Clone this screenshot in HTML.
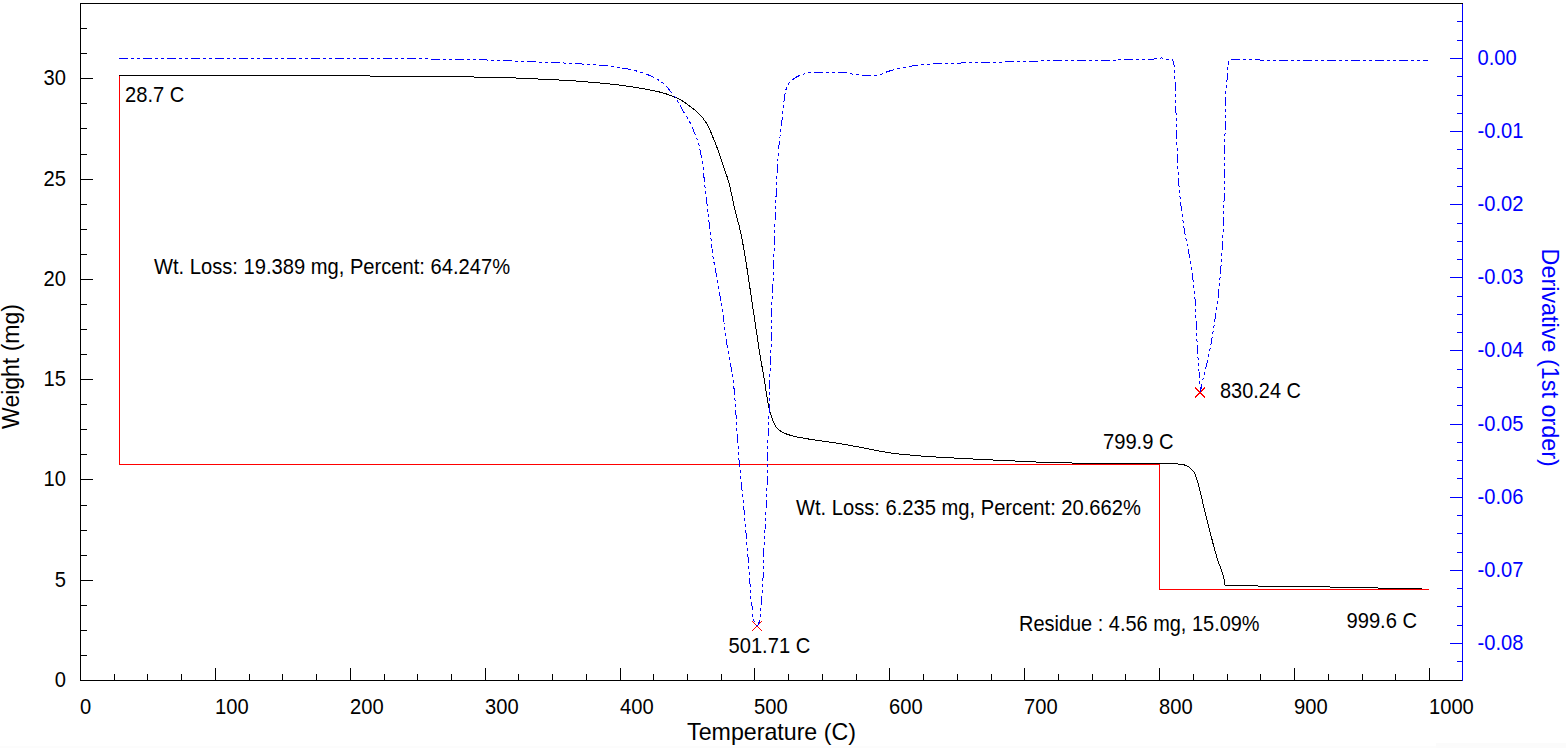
<!DOCTYPE html>
<html><head><meta charset="utf-8"><title>TGA</title>
<style>
html,body{margin:0;padding:0;background:#fff;}
svg{display:block}
text{font-family:"Liberation Sans",Arial,sans-serif;}
.t20{font-size:20px}
.t23{font-size:23px}
.ax{shape-rendering:crispEdges;stroke-width:1;fill:none}
</style></head><body>
<svg width="1566" height="748" viewBox="0 0 1566 748">
<rect width="1566" height="748" fill="#fff"/>
<rect x="0" y="746" width="1566" height="2" fill="#fcfcfc"/><rect x="1436" y="743" width="130" height="5" fill="#fbfbfb"/>
<g class="ax" stroke="#000"><path d="M1462.5,3.5 H80.5 V680.5 H1462.5" stroke-linecap="square"/>
<path d="M80.5,680.5 h12 M80.5,655.5 h6 M80.5,630.5 h6 M80.5,605.5 h6 M80.5,580.5 h12 M80.5,555.5 h6 M80.5,530.5 h6 M80.5,505.5 h6 M80.5,479.5 h12 M80.5,454.5 h6 M80.5,429.5 h6 M80.5,404.5 h6 M80.5,379.5 h12 M80.5,354.5 h6 M80.5,329.5 h6 M80.5,304.5 h6 M80.5,279.5 h12 M80.5,254.5 h6 M80.5,229.5 h6 M80.5,204.5 h6 M80.5,179.5 h12 M80.5,154.5 h6 M80.5,128.5 h6 M80.5,103.5 h6 M80.5,78.5 h12 M80.5,53.5 h6 M80.5,28.5 h6 M80.5,680.5 v-13 M114.5,680.5 v-7 M147.5,680.5 v-7 M181.5,680.5 v-7 M215.5,680.5 v-13 M249.5,680.5 v-7 M282.5,680.5 v-7 M316.5,680.5 v-7 M350.5,680.5 v-13 M384.5,680.5 v-7 M417.5,680.5 v-7 M451.5,680.5 v-7 M485.5,680.5 v-13 M518.5,680.5 v-7 M552.5,680.5 v-7 M586.5,680.5 v-7 M620.5,680.5 v-13 M653.5,680.5 v-7 M687.5,680.5 v-7 M721.5,680.5 v-7 M754.5,680.5 v-13 M788.5,680.5 v-7 M822.5,680.5 v-7 M856.5,680.5 v-7 M889.5,680.5 v-13 M923.5,680.5 v-7 M957.5,680.5 v-7 M991.5,680.5 v-7 M1024.5,680.5 v-13 M1058.5,680.5 v-7 M1092.5,680.5 v-7 M1125.5,680.5 v-7 M1159.5,680.5 v-13 M1193.5,680.5 v-7 M1227.5,680.5 v-7 M1260.5,680.5 v-7 M1294.5,680.5 v-13 M1328.5,680.5 v-7 M1362.5,680.5 v-7 M1395.5,680.5 v-7 M1429.5,680.5 v-13 "/></g>
<g class="ax" stroke="#00f"><path d="M1462.5,3.5 V680.5 M1462.5,21.5 h-6 M1462.5,40.5 h-6 M1462.5,58.5 h-13 M1462.5,76.5 h-6 M1462.5,95.5 h-6 M1462.5,113.5 h-6 M1462.5,131.5 h-13 M1462.5,149.5 h-6 M1462.5,168.5 h-6 M1462.5,186.5 h-6 M1462.5,204.5 h-13 M1462.5,223.5 h-6 M1462.5,241.5 h-6 M1462.5,259.5 h-6 M1462.5,277.5 h-13 M1462.5,296.5 h-6 M1462.5,314.5 h-6 M1462.5,332.5 h-6 M1462.5,350.5 h-13 M1462.5,369.5 h-6 M1462.5,387.5 h-6 M1462.5,405.5 h-6 M1462.5,424.5 h-13 M1462.5,442.5 h-6 M1462.5,460.5 h-6 M1462.5,478.5 h-6 M1462.5,497.5 h-13 M1462.5,515.5 h-6 M1462.5,533.5 h-6 M1462.5,552.5 h-6 M1462.5,570.5 h-13 M1462.5,588.5 h-6 M1462.5,606.5 h-6 M1462.5,625.5 h-6 M1462.5,643.5 h-13 M1462.5,661.5 h-6 "/></g>
<text transform="translate(66,687) scale(1.0,1.07)" font-size="20.15" fill="#000" text-anchor="end">0</text>
<text transform="translate(66,587) scale(1.0,1.07)" font-size="20.15" fill="#000" text-anchor="end">5</text>
<text transform="translate(66,486) scale(1.0,1.07)" font-size="20.15" fill="#000" text-anchor="end">10</text>
<text transform="translate(66,386) scale(1.0,1.07)" font-size="20.15" fill="#000" text-anchor="end">15</text>
<text transform="translate(66,286) scale(1.0,1.07)" font-size="20.15" fill="#000" text-anchor="end">20</text>
<text transform="translate(66,186) scale(1.0,1.07)" font-size="20.15" fill="#000" text-anchor="end">25</text>
<text transform="translate(66,85) scale(1.0,1.07)" font-size="20.15" fill="#000" text-anchor="end">30</text>
<text transform="translate(80,713.5) scale(1.0,1.07)" font-size="20.15" fill="#000">0</text>
<text transform="translate(215,713.5) scale(1.0,1.07)" font-size="20.15" fill="#000">100</text>
<text transform="translate(350,713.5) scale(1.0,1.07)" font-size="20.15" fill="#000">200</text>
<text transform="translate(485,713.5) scale(1.0,1.07)" font-size="20.15" fill="#000">300</text>
<text transform="translate(620,713.5) scale(1.0,1.07)" font-size="20.15" fill="#000">400</text>
<text transform="translate(754,713.5) scale(1.0,1.07)" font-size="20.15" fill="#000">500</text>
<text transform="translate(889,713.5) scale(1.0,1.07)" font-size="20.15" fill="#000">600</text>
<text transform="translate(1024,713.5) scale(1.0,1.07)" font-size="20.15" fill="#000">700</text>
<text transform="translate(1159,713.5) scale(1.0,1.07)" font-size="20.15" fill="#000">800</text>
<text transform="translate(1294,713.5) scale(1.0,1.07)" font-size="20.15" fill="#000">900</text>
<text transform="translate(1429,713.5) scale(1.0,1.07)" font-size="20.15" fill="#000">1000</text>
<text transform="translate(1477.5,64.5) scale(1.0,1.07)" font-size="20.15" fill="#00f">0.00</text>
<text transform="translate(1477.5,137.5) scale(1.0,1.07)" font-size="20.15" fill="#00f">-0.01</text>
<text transform="translate(1477.5,210.5) scale(1.0,1.07)" font-size="20.15" fill="#00f">-0.02</text>
<text transform="translate(1477.5,283.5) scale(1.0,1.07)" font-size="20.15" fill="#00f">-0.03</text>
<text transform="translate(1477.5,356.5) scale(1.0,1.07)" font-size="20.15" fill="#00f">-0.04</text>
<text transform="translate(1477.5,430.5) scale(1.0,1.07)" font-size="20.15" fill="#00f">-0.05</text>
<text transform="translate(1477.5,503.5) scale(1.0,1.07)" font-size="20.15" fill="#00f">-0.06</text>
<text transform="translate(1477.5,576.5) scale(1.0,1.07)" font-size="20.15" fill="#00f">-0.07</text>
<text transform="translate(1477.5,649.5) scale(1.0,1.07)" font-size="20.15" fill="#00f">-0.08</text>
<text transform="translate(771.5,739.8) scale(1.0,1.0)" font-size="23.2" fill="#000" text-anchor="middle">Temperature (C)</text>
<text transform="translate(19,366.5) rotate(-90) scale(1.0,1.0)" font-size="23" fill="#000" text-anchor="middle">Weight (mg)</text>
<text transform="translate(1542.2,357.7) rotate(90) scale(1.0,1.0)" font-size="23.4" fill="#00f" text-anchor="middle">Derivative (1st order)</text>
<g class="ax" stroke="#f00"><path d="M119.5,75.5 V464.5 H1159.5 V589.5 H1429"/></g>
<path d="M752,621 l10,10 M752,631 l10,-10" stroke="#f00" stroke-width="1" fill="none" shape-rendering="crispEdges"/>
<path d="M1195,387.5 l10,10 M1195,397.5 l10,-10" stroke="#f00" stroke-width="1" fill="none" shape-rendering="crispEdges"/>
<path d="M119.0,75.5 L120.5,75.5 L122.0,75.5 L123.5,75.5 L125.0,75.5 L126.5,75.5 L128.0,75.5 L129.5,75.5 L131.0,75.5 L132.5,75.5 L134.0,75.5 L135.5,75.5 L137.0,75.5 L138.5,75.5 L140.0,75.5 L141.5,75.5 L143.0,75.5 L144.5,75.5 L146.0,75.5 L147.5,75.5 L149.0,75.5 L150.5,75.5 L152.1,75.5 L153.6,75.5 L155.1,75.5 L156.6,75.5 L158.1,75.5 L159.6,75.5 L161.1,75.5 L162.6,75.5 L164.1,75.5 L165.6,75.5 L167.1,75.5 L168.6,75.5 L170.1,75.5 L171.6,75.5 L173.1,75.5 L174.6,75.5 L176.1,75.5 L177.6,75.5 L179.1,75.5 L180.6,75.5 L182.1,75.5 L183.6,75.5 L185.1,75.5 L186.6,75.5 L188.1,75.5 L189.6,75.5 L191.1,75.5 L192.6,75.5 L194.1,75.5 L195.6,75.5 L197.1,75.5 L198.6,75.5 L200.1,75.5 L201.6,75.5 L203.1,75.5 L204.6,75.5 L206.1,75.6 L207.6,75.6 L209.1,75.6 L210.6,75.6 L212.1,75.6 L213.6,75.6 L215.1,75.6 L216.6,75.6 L218.2,75.6 L219.7,75.6 L221.2,75.6 L222.7,75.6 L224.2,75.6 L225.7,75.6 L227.2,75.6 L228.7,75.6 L230.2,75.6 L231.7,75.6 L233.2,75.6 L234.7,75.6 L236.2,75.6 L237.7,75.6 L239.2,75.6 L240.7,75.6 L242.2,75.6 L243.7,75.6 L245.2,75.6 L246.7,75.6 L248.2,75.6 L249.7,75.6 L251.2,75.6 L252.7,75.6 L254.2,75.6 L255.7,75.6 L257.2,75.6 L258.7,75.6 L260.2,75.6 L261.7,75.6 L263.2,75.6 L264.7,75.6 L266.2,75.6 L267.7,75.6 L269.2,75.6 L270.7,75.6 L272.2,75.6 L273.7,75.6 L275.2,75.6 L276.7,75.6 L278.2,75.6 L279.7,75.6 L281.2,75.7 L282.8,75.7 L284.3,75.7 L285.8,75.7 L287.3,75.7 L288.8,75.7 L290.3,75.7 L291.8,75.7 L293.3,75.7 L294.8,75.7 L296.3,75.7 L297.8,75.7 L299.3,75.7 L300.8,75.7 L302.3,75.7 L303.8,75.7 L305.3,75.7 L306.8,75.7 L308.3,75.7 L309.8,75.7 L311.3,75.7 L312.8,75.7 L314.3,75.7 L315.8,75.7 L317.3,75.7 L318.8,75.8 L320.3,75.8 L321.8,75.8 L323.3,75.8 L324.8,75.8 L326.3,75.8 L327.8,75.8 L329.3,75.8 L330.8,75.8 L332.3,75.8 L333.8,75.8 L335.3,75.8 L336.8,75.8 L338.3,75.8 L339.8,75.8 L341.3,75.8 L342.8,75.8 L344.3,75.8 L345.8,75.8 L347.4,75.9 L348.9,75.9 L350.4,75.9 L351.9,75.9 L353.4,75.9 L354.9,75.9 L356.4,75.9 L357.9,75.9 L359.4,75.9 L360.9,75.9 L362.4,75.9 L363.9,75.9 L365.4,75.9 L366.9,75.9 L368.4,75.9 L369.9,76.0 L371.4,76.0 L372.9,76.0 L374.4,76.0 L375.9,76.0 L377.4,76.0 L378.9,76.0 L380.4,76.0 L381.9,76.0 L383.4,76.0 L384.9,76.0 L386.4,76.0 L387.9,76.0 L389.4,76.1 L390.9,76.1 L392.4,76.1 L393.9,76.1 L395.4,76.1 L396.9,76.1 L398.4,76.1 L399.9,76.1 L401.4,76.1 L402.9,76.1 L404.4,76.2 L405.9,76.2 L407.4,76.2 L408.9,76.2 L410.4,76.2 L411.9,76.2 L413.5,76.2 L415.0,76.2 L416.5,76.3 L418.0,76.3 L419.5,76.3 L421.0,76.3 L422.5,76.3 L424.0,76.3 L425.5,76.3 L427.0,76.4 L428.5,76.4 L430.0,76.4 L431.5,76.4 L433.0,76.4 L434.5,76.4 L436.0,76.5 L437.5,76.5 L439.0,76.5 L440.5,76.5 L442.0,76.5 L443.5,76.6 L445.0,76.6 L446.5,76.6 L448.0,76.6 L449.5,76.6 L451.0,76.6 L452.5,76.7 L454.0,76.7 L455.5,76.7 L457.0,76.7 L458.5,76.7 L460.0,76.8 L461.5,76.8 L463.0,76.8 L464.5,76.8 L466.0,76.9 L467.5,76.9 L469.0,76.9 L470.5,76.9 L472.0,76.9 L473.5,77.0 L475.0,77.0 L476.5,77.0 L478.0,77.0 L479.5,77.1 L481.0,77.1 L482.6,77.1 L484.1,77.1 L485.6,77.2 L487.1,77.2 L488.6,77.2 L490.1,77.3 L491.6,77.3 L493.1,77.3 L494.6,77.4 L496.1,77.4 L497.6,77.4 L499.1,77.5 L500.6,77.5 L502.1,77.6 L503.6,77.6 L505.1,77.6 L506.6,77.7 L508.1,77.7 L509.6,77.8 L511.1,77.8 L512.6,77.9 L514.1,77.9 L515.6,78.0 L517.1,78.0 L518.6,78.1 L520.1,78.1 L521.6,78.2 L523.1,78.2 L524.6,78.3 L526.1,78.4 L527.6,78.4 L529.1,78.5 L530.6,78.6 L532.1,78.7 L533.6,78.7 L535.1,78.8 L536.6,78.9 L538.1,79.0 L539.6,79.0 L541.1,79.1 L542.6,79.2 L544.1,79.2 L545.6,79.3 L547.1,79.4 L548.6,79.5 L550.1,79.5 L551.6,79.6 L553.1,79.7 L554.6,79.8 L556.1,79.9 L557.6,79.9 L559.1,80.0 L560.6,80.1 L562.1,80.2 L563.6,80.3 L565.1,80.4 L566.6,80.5 L568.1,80.6 L569.6,80.6 L571.1,80.7 L572.6,80.8 L574.1,80.9 L575.6,81.0 L577.1,81.1 L578.6,81.3 L580.1,81.4 L581.6,81.5 L583.1,81.6 L584.6,81.7 L586.1,81.8 L587.6,81.9 L589.1,82.1 L590.6,82.2 L592.1,82.3 L593.6,82.4 L595.1,82.6 L596.6,82.7 L598.1,82.8 L599.6,83.0 L601.1,83.1 L602.6,83.3 L604.1,83.4 L605.5,83.5 L607.0,83.7 L608.5,83.8 L610.0,84.0 L611.5,84.2 L613.0,84.3 L614.5,84.5 L616.0,84.7 L617.5,84.9 L619.0,85.0 L620.5,85.2 L622.0,85.4 L623.5,85.6 L624.9,85.8 L626.4,86.0 L627.9,86.3 L629.4,86.5 L630.9,86.7 L632.4,86.9 L633.9,87.1 L635.4,87.4 L636.8,87.6 L638.3,87.8 L639.8,88.1 L641.3,88.3 L642.8,88.6 L644.2,88.8 L645.7,89.1 L647.2,89.4 L648.7,89.7 L650.1,90.0 L651.6,90.3 L653.1,90.6 L654.6,90.9 L656.0,91.2 L657.5,91.5 L659.0,91.9 L660.4,92.2 L661.9,92.6 L663.3,93.0 L664.8,93.4 L666.2,93.9 L667.6,94.4 L669.0,94.9 L670.4,95.4 L671.8,96.0 L673.2,96.5 L674.6,97.1 L676.0,97.7 L677.4,98.3 L678.8,98.9 L680.1,99.6 L681.4,100.3 L682.7,101.1 L683.9,101.9 L685.2,102.8 L686.4,103.7 L687.6,104.5 L688.8,105.4 L690.0,106.3 L691.2,107.2 L692.4,108.1 L693.6,109.1 L694.8,110.0 L695.9,111.0 L697.0,112.0 L698.1,113.1 L699.2,114.1 L700.3,115.2 L701.3,116.3 L702.3,117.4 L703.2,118.6 L704.1,119.8 L705.0,121.0 L705.8,122.3 L706.6,123.6 L707.3,124.9 L708.0,126.2 L708.7,127.5 L709.4,128.9 L710.0,130.2 L710.6,131.6 L711.2,133.0 L711.8,134.4 L712.4,135.8 L712.9,137.2 L713.5,138.5 L714.1,139.9 L714.7,141.3 L715.2,142.7 L715.8,144.1 L716.3,145.5 L716.8,146.9 L717.3,148.3 L717.9,149.7 L718.4,151.2 L718.9,152.6 L719.4,154.0 L719.9,155.4 L720.3,156.8 L720.8,158.3 L721.3,159.7 L721.8,161.1 L722.3,162.5 L722.8,164.0 L723.2,165.4 L723.7,166.8 L724.2,168.2 L724.7,169.7 L725.1,171.1 L725.6,172.5 L726.1,173.9 L726.6,175.3 L727.1,176.8 L727.6,178.2 L728.0,179.6 L728.4,181.1 L728.8,182.5 L729.2,184.0 L729.6,185.4 L729.9,186.9 L730.3,188.3 L730.6,189.8 L730.9,191.3 L731.2,192.7 L731.6,194.2 L731.9,195.7 L732.2,197.2 L732.5,198.6 L732.8,200.1 L733.1,201.6 L733.4,203.0 L733.7,204.5 L734.1,206.0 L734.4,207.4 L734.8,208.9 L735.1,210.4 L735.5,211.8 L735.9,213.3 L736.2,214.7 L736.6,216.2 L737.0,217.6 L737.4,219.1 L737.8,220.5 L738.1,222.0 L738.5,223.5 L738.9,224.9 L739.3,226.4 L739.6,227.8 L739.9,229.3 L740.3,230.8 L740.6,232.2 L740.9,233.7 L741.2,235.2 L741.5,236.6 L741.8,238.1 L742.1,239.6 L742.4,241.1 L742.6,242.5 L742.9,244.0 L743.2,245.5 L743.4,247.0 L743.7,248.4 L744.0,249.9 L744.2,251.4 L744.5,252.9 L744.7,254.4 L745.0,255.9 L745.2,257.3 L745.5,258.8 L745.7,260.3 L746.0,261.8 L746.2,263.3 L746.5,264.7 L746.7,266.2 L746.9,267.7 L747.1,269.2 L747.4,270.7 L747.6,272.2 L747.8,273.7 L748.0,275.1 L748.3,276.6 L748.5,278.1 L748.7,279.6 L748.9,281.1 L749.1,282.6 L749.4,284.1 L749.6,285.5 L749.8,287.0 L750.0,288.5 L750.3,290.0 L750.5,291.5 L750.7,293.0 L750.9,294.5 L751.2,295.9 L751.4,297.4 L751.6,298.9 L751.8,300.4 L752.0,301.9 L752.3,303.4 L752.5,304.9 L752.7,306.3 L752.9,307.8 L753.1,309.3 L753.4,310.8 L753.6,312.3 L753.8,313.8 L754.0,315.3 L754.2,316.7 L754.5,318.2 L754.7,319.7 L754.9,321.2 L755.1,322.7 L755.3,324.2 L755.6,325.7 L755.8,327.1 L756.0,328.6 L756.2,330.1 L756.4,331.6 L756.7,333.1 L756.9,334.6 L757.1,336.1 L757.3,337.6 L757.6,339.0 L757.8,340.5 L758.0,342.0 L758.2,343.5 L758.4,345.0 L758.7,346.5 L758.9,347.9 L759.1,349.4 L759.4,350.9 L759.6,352.4 L759.8,353.9 L760.1,355.4 L760.3,356.9 L760.6,358.3 L760.8,359.8 L761.1,361.3 L761.3,362.8 L761.6,364.3 L761.9,365.7 L762.1,367.2 L762.4,368.7 L762.7,370.2 L762.9,371.6 L763.2,373.1 L763.5,374.6 L763.7,376.1 L764.0,377.6 L764.2,379.0 L764.5,380.5 L764.7,382.0 L764.9,383.5 L765.2,385.0 L765.4,386.5 L765.6,388.0 L765.8,389.4 L766.0,390.9 L766.2,392.4 L766.5,393.9 L766.7,395.4 L766.9,396.9 L767.2,398.3 L767.4,399.8 L767.7,401.3 L768.0,402.8 L768.3,404.3 L768.6,405.7 L768.9,407.2 L769.2,408.7 L769.5,410.1 L769.9,411.6 L770.3,413.0 L770.7,414.5 L771.2,415.9 L771.7,417.4 L772.2,418.8 L772.7,420.2 L773.3,421.6 L773.9,423.0 L774.6,424.4 L775.3,425.7 L776.1,426.9 L777.0,428.0 L778.1,429.1 L779.3,430.1 L780.5,431.0 L781.8,431.8 L783.1,432.5 L784.4,433.1 L785.8,433.7 L787.2,434.3 L788.7,434.7 L790.1,435.2 L791.6,435.6 L793.0,435.9 L794.5,436.3 L795.9,436.6 L797.4,437.0 L798.9,437.3 L800.4,437.6 L801.8,437.8 L803.3,438.1 L804.8,438.4 L806.3,438.7 L807.8,438.9 L809.2,439.1 L810.7,439.4 L812.2,439.6 L813.7,439.8 L815.2,440.0 L816.7,440.3 L818.2,440.5 L819.6,440.7 L821.1,440.9 L822.6,441.1 L824.1,441.3 L825.6,441.5 L827.1,441.7 L828.6,441.9 L830.1,442.2 L831.6,442.4 L833.0,442.6 L834.5,442.8 L836.0,443.0 L837.5,443.2 L839.0,443.4 L840.5,443.7 L841.9,443.9 L843.4,444.2 L844.9,444.4 L846.4,444.7 L847.9,445.0 L849.3,445.2 L850.8,445.5 L852.3,445.8 L853.8,446.1 L855.2,446.4 L856.7,446.6 L858.2,446.9 L859.7,447.2 L861.1,447.5 L862.6,447.8 L864.1,448.1 L865.6,448.4 L867.0,448.6 L868.5,448.9 L870.0,449.2 L871.5,449.5 L872.9,449.8 L874.4,450.1 L875.9,450.4 L877.4,450.6 L878.8,450.9 L880.3,451.2 L881.8,451.5 L883.3,451.7 L884.8,452.0 L886.2,452.3 L887.7,452.5 L889.2,452.8 L890.7,453.0 L892.2,453.2 L893.7,453.4 L895.2,453.6 L896.6,453.8 L898.1,453.9 L899.6,454.1 L901.1,454.2 L902.6,454.4 L904.1,454.5 L905.6,454.6 L907.1,454.8 L908.6,454.9 L910.1,455.0 L911.6,455.2 L913.1,455.3 L914.6,455.4 L916.1,455.6 L917.6,455.7 L919.1,455.8 L920.6,455.9 L922.1,456.1 L923.6,456.2 L925.1,456.3 L926.6,456.4 L928.1,456.5 L929.6,456.6 L931.1,456.7 L932.6,456.8 L934.1,456.9 L935.6,457.0 L937.1,457.1 L938.6,457.2 L940.1,457.3 L941.6,457.4 L943.1,457.5 L944.6,457.5 L946.1,457.6 L947.6,457.7 L949.1,457.8 L950.6,457.8 L952.1,457.9 L953.6,458.0 L955.1,458.1 L956.6,458.2 L958.1,458.2 L959.6,458.3 L961.1,458.4 L962.6,458.5 L964.1,458.5 L965.6,458.6 L967.1,458.7 L968.6,458.8 L970.1,458.8 L971.6,458.9 L973.1,459.0 L974.6,459.1 L976.1,459.2 L977.6,459.2 L979.1,459.3 L980.6,459.4 L982.1,459.4 L983.6,459.5 L985.1,459.6 L986.6,459.7 L988.1,459.7 L989.6,459.8 L991.1,459.9 L992.6,460.0 L994.1,460.0 L995.6,460.1 L997.1,460.2 L998.6,460.2 L1000.1,460.3 L1001.6,460.4 L1003.1,460.4 L1004.6,460.5 L1006.1,460.6 L1007.6,460.7 L1009.1,460.7 L1010.6,460.8 L1012.1,460.9 L1013.6,460.9 L1015.1,461.0 L1016.6,461.1 L1018.1,461.2 L1019.6,461.2 L1021.1,461.3 L1022.6,461.4 L1024.1,461.4 L1025.6,461.5 L1027.1,461.6 L1028.6,461.7 L1030.1,461.7 L1031.6,461.8 L1033.1,461.8 L1034.6,461.9 L1036.1,462.0 L1037.6,462.0 L1039.1,462.1 L1040.6,462.1 L1042.1,462.2 L1043.6,462.3 L1045.1,462.3 L1046.6,462.3 L1048.1,462.4 L1049.6,462.4 L1051.1,462.5 L1052.6,462.5 L1054.1,462.6 L1055.6,462.6 L1057.1,462.6 L1058.6,462.7 L1060.1,462.7 L1061.6,462.7 L1063.1,462.8 L1064.6,462.8 L1066.1,462.8 L1067.6,462.9 L1069.1,462.9 L1070.6,462.9 L1072.1,463.0 L1073.6,463.0 L1075.1,463.0 L1076.7,463.0 L1078.2,463.1 L1079.7,463.1 L1081.2,463.1 L1082.7,463.1 L1084.2,463.1 L1085.7,463.2 L1087.2,463.2 L1088.7,463.2 L1090.2,463.2 L1091.7,463.2 L1093.2,463.2 L1094.7,463.2 L1096.2,463.2 L1097.7,463.2 L1099.2,463.3 L1100.7,463.3 L1102.2,463.3 L1103.7,463.3 L1105.2,463.3 L1106.7,463.3 L1108.2,463.3 L1109.7,463.3 L1111.2,463.3 L1112.7,463.3 L1114.2,463.3 L1115.7,463.3 L1117.2,463.3 L1118.7,463.3 L1120.2,463.3 L1121.7,463.3 L1123.2,463.3 L1124.7,463.3 L1126.2,463.3 L1127.7,463.4 L1129.2,463.4 L1130.7,463.4 L1132.2,463.4 L1133.7,463.4 L1135.2,463.4 L1136.7,463.4 L1138.2,463.4 L1139.7,463.4 L1141.3,463.4 L1142.8,463.4 L1144.3,463.4 L1145.8,463.4 L1147.3,463.4 L1148.8,463.4 L1150.3,463.4 L1151.8,463.4 L1153.3,463.5 L1154.8,463.5 L1156.3,463.5 L1157.8,463.5 L1159.3,463.5 L1160.8,463.5 L1162.3,463.5 L1163.8,463.5 L1165.3,463.6 L1166.8,463.6 L1168.3,463.6 L1169.8,463.6 L1171.3,463.7 L1172.8,463.7 L1174.3,463.8 L1175.8,463.8 L1177.3,463.9 L1178.8,464.1 L1180.3,464.2 L1181.8,464.4 L1183.3,464.6 L1184.7,465.1 L1186.1,465.6 L1187.5,466.4 L1188.8,467.1 L1190.0,468.0 L1191.1,468.9 L1192.3,470.0 L1193.3,471.2 L1194.1,472.4 L1194.8,473.7 L1195.4,475.0 L1195.9,476.4 L1196.4,477.8 L1196.8,479.3 L1197.2,480.8 L1197.7,482.3 L1198.1,483.7 L1198.5,485.2 L1198.9,486.6 L1199.3,488.1 L1199.6,489.5 L1200.0,491.0 L1200.4,492.4 L1200.7,493.9 L1201.1,495.4 L1201.4,496.8 L1201.8,498.3 L1202.1,499.7 L1202.4,501.2 L1202.8,502.7 L1203.1,504.1 L1203.5,505.6 L1203.8,507.1 L1204.2,508.5 L1204.6,510.0 L1204.9,511.4 L1205.3,512.9 L1205.6,514.4 L1206.0,515.8 L1206.4,517.3 L1206.7,518.7 L1207.1,520.2 L1207.4,521.6 L1207.8,523.1 L1208.2,524.6 L1208.5,526.0 L1208.9,527.5 L1209.3,528.9 L1209.6,530.4 L1210.0,531.8 L1210.4,533.3 L1210.7,534.8 L1211.1,536.2 L1211.5,537.7 L1211.9,539.1 L1212.3,540.6 L1212.6,542.0 L1213.0,543.5 L1213.4,544.9 L1213.8,546.4 L1214.2,547.8 L1214.6,549.3 L1215.0,550.7 L1215.4,552.2 L1215.8,553.6 L1216.2,555.1 L1216.6,556.5 L1217.1,557.9 L1217.5,559.4 L1218.0,560.8 L1218.5,562.2 L1219.0,563.6 L1219.6,565.0 L1220.1,566.5 L1220.6,567.9 L1221.2,569.3 L1221.7,570.7 L1222.1,572.1 L1222.6,573.6 L1223.0,575.0 L1223.4,576.4 L1223.7,577.9 L1224.0,579.4 L1224.3,580.8 L1224.5,582.3 L1224.8,583.8 L1225.0,585.3 L1226.5,585.3 L1228.0,585.4 L1229.5,585.4 L1231.1,585.4 L1232.6,585.5 L1234.1,585.5 L1235.6,585.5 L1237.1,585.6 L1238.6,585.6 L1240.2,585.6 L1241.7,585.6 L1243.2,585.7 L1244.7,585.7 L1246.2,585.7 L1247.7,585.8 L1249.2,585.8 L1250.8,585.8 L1252.3,585.8 L1253.8,585.9 L1255.3,585.9 L1256.8,585.9 L1258.3,586.0 L1259.9,586.0 L1261.4,586.0 L1262.9,586.0 L1264.4,586.1 L1265.9,586.1 L1267.4,586.1 L1268.9,586.1 L1270.5,586.2 L1272.0,586.2 L1273.5,586.2 L1275.0,586.2 L1276.5,586.2 L1278.0,586.3 L1279.6,586.3 L1281.1,586.3 L1282.6,586.3 L1284.1,586.3 L1285.6,586.4 L1287.1,586.4 L1288.6,586.4 L1290.2,586.4 L1291.7,586.4 L1293.2,586.5 L1294.7,586.5 L1296.2,586.5 L1297.7,586.5 L1299.3,586.5 L1300.8,586.6 L1302.3,586.6 L1303.8,586.6 L1305.3,586.6 L1306.8,586.6 L1308.3,586.7 L1309.9,586.7 L1311.4,586.7 L1312.9,586.7 L1314.4,586.7 L1315.9,586.8 L1317.4,586.8 L1319.0,586.8 L1320.5,586.8 L1322.0,586.8 L1323.5,586.9 L1325.0,586.9 L1326.5,586.9 L1328.0,586.9 L1329.6,587.0 L1331.1,587.0 L1332.6,587.0 L1334.1,587.0 L1335.6,587.1 L1337.1,587.1 L1338.7,587.1 L1340.2,587.2 L1341.7,587.2 L1343.2,587.2 L1344.7,587.2 L1346.2,587.3 L1347.7,587.3 L1349.3,587.3 L1350.8,587.4 L1352.3,587.4 L1353.8,587.4 L1355.3,587.5 L1356.8,587.5 L1358.4,587.5 L1359.9,587.6 L1361.4,587.6 L1362.9,587.7 L1364.4,587.7 L1365.9,587.7 L1367.4,587.8 L1369.0,587.8 L1370.5,587.8 L1372.0,587.9 L1373.5,587.9 L1375.0,587.9 L1376.5,587.9 L1378.1,588.0 L1379.6,588.0 L1381.1,588.0 L1382.6,588.1 L1384.1,588.1 L1385.6,588.1 L1387.1,588.2 L1388.7,588.2 L1390.2,588.2 L1391.7,588.2 L1393.2,588.3 L1394.7,588.3 L1396.2,588.3 L1397.8,588.4 L1399.3,588.4 L1400.8,588.4 L1402.3,588.4 L1403.8,588.5 L1405.3,588.5 L1406.8,588.5 L1408.4,588.6 L1409.9,588.6 L1411.4,588.6 L1412.9,588.6 L1414.4,588.7 L1415.9,588.7 L1417.5,588.7 L1419.0,588.7 L1420.5,588.8 L1422.0,588.8" fill="none" stroke="#000" stroke-width="1" stroke-linejoin="round" shape-rendering="crispEdges"/>
<path d="M119.0,58.5 L120.5,58.5 L122.0,58.5 L123.5,58.5 L125.0,58.5 L126.5,58.5 L128.0,58.5 L129.5,58.5 L131.0,58.5 L132.5,58.5 L134.0,58.5 L135.5,58.5 L137.0,58.5 L138.5,58.5 L140.0,58.5 L141.5,58.5 L143.0,58.5 L144.5,58.5 L146.0,58.5 L147.5,58.5 L149.0,58.5 L150.5,58.5 L152.0,58.5 L153.5,58.5 L155.0,58.5 L156.5,58.5 L158.0,58.5 L159.5,58.5 L161.0,58.5 L162.6,58.5 L164.1,58.5 L165.6,58.5 L167.1,58.5 L168.6,58.5 L170.1,58.5 L171.6,58.5 L173.1,58.5 L174.6,58.5 L176.1,58.5 L177.6,58.5 L179.1,58.5 L180.6,58.5 L182.1,58.5 L183.6,58.5 L185.1,58.5 L186.6,58.5 L188.1,58.5 L189.6,58.5 L191.1,58.5 L192.6,58.5 L194.1,58.5 L195.6,58.5 L197.1,58.5 L198.6,58.5 L200.1,58.5 L201.6,58.5 L203.1,58.5 L204.6,58.5 L206.1,58.5 L207.6,58.5 L209.1,58.5 L210.6,58.5 L212.1,58.5 L213.6,58.5 L215.1,58.5 L216.6,58.5 L218.1,58.5 L219.6,58.5 L221.1,58.5 L222.6,58.5 L224.1,58.5 L225.6,58.5 L227.1,58.5 L228.6,58.5 L230.1,58.5 L231.6,58.5 L233.1,58.5 L234.6,58.5 L236.1,58.5 L237.6,58.5 L239.1,58.5 L240.6,58.5 L242.1,58.5 L243.6,58.5 L245.1,58.5 L246.6,58.5 L248.2,58.5 L249.7,58.5 L251.2,58.5 L252.7,58.5 L254.2,58.5 L255.7,58.5 L257.2,58.5 L258.7,58.5 L260.2,58.5 L261.7,58.5 L263.2,58.5 L264.7,58.5 L266.2,58.5 L267.7,58.5 L269.2,58.5 L270.7,58.5 L272.2,58.5 L273.7,58.5 L275.2,58.5 L276.7,58.5 L278.2,58.5 L279.7,58.5 L281.2,58.5 L282.7,58.5 L284.2,58.5 L285.7,58.5 L287.2,58.5 L288.7,58.5 L290.2,58.5 L291.7,58.5 L293.2,58.5 L294.7,58.5 L296.2,58.5 L297.7,58.5 L299.2,58.5 L300.7,58.5 L302.2,58.5 L303.7,58.5 L305.2,58.5 L306.7,58.5 L308.2,58.5 L309.7,58.5 L311.2,58.5 L312.7,58.5 L314.2,58.5 L315.7,58.5 L317.2,58.5 L318.7,58.5 L320.2,58.5 L321.7,58.5 L323.2,58.5 L324.7,58.5 L326.2,58.5 L327.7,58.5 L329.2,58.5 L330.7,58.5 L332.3,58.5 L333.8,58.5 L335.3,58.5 L336.8,58.5 L338.3,58.5 L339.8,58.5 L341.3,58.5 L342.8,58.6 L344.3,58.6 L345.8,58.6 L347.3,58.6 L348.8,58.6 L350.3,58.6 L351.8,58.6 L353.3,58.6 L354.8,58.6 L356.3,58.6 L357.8,58.6 L359.3,58.6 L360.8,58.6 L362.3,58.6 L363.8,58.6 L365.3,58.6 L366.8,58.6 L368.3,58.6 L369.8,58.6 L371.3,58.6 L372.8,58.6 L374.3,58.6 L375.8,58.6 L377.3,58.6 L378.8,58.6 L380.3,58.6 L381.8,58.6 L383.3,58.6 L384.8,58.6 L386.3,58.6 L387.8,58.6 L389.3,58.6 L390.8,58.6 L392.3,58.6 L393.8,58.6 L395.3,58.7 L396.8,58.7 L398.3,58.7 L399.8,58.7 L401.3,58.7 L402.8,58.7 L404.3,58.7 L405.8,58.7 L407.3,58.7 L408.8,58.7 L410.3,58.8 L411.8,58.8 L413.3,58.8 L414.8,58.8 L416.3,58.8 L417.9,58.8 L419.4,58.8 L420.9,58.9 L422.4,58.9 L423.9,58.9 L425.4,58.9 L426.9,58.9 L428.4,59.0 L429.9,59.0 L431.4,59.0 L432.9,59.0 L434.4,59.0 L435.9,59.0 L437.4,59.1 L438.9,59.1 L440.4,59.1 L441.9,59.1 L443.4,59.2 L444.9,59.2 L446.4,59.2 L447.9,59.2 L449.4,59.2 L450.9,59.3 L452.4,59.3 L453.9,59.3 L455.4,59.3 L456.9,59.4 L458.4,59.4 L459.9,59.4 L461.4,59.4 L462.9,59.5 L464.4,59.5 L465.9,59.5 L467.4,59.5 L468.9,59.6 L470.4,59.6 L471.9,59.6 L473.4,59.7 L474.9,59.7 L476.4,59.7 L477.9,59.7 L479.4,59.8 L480.9,59.8 L482.4,59.8 L483.9,59.9 L485.4,59.9 L486.9,60.0 L488.4,60.0 L489.9,60.1 L491.4,60.1 L492.9,60.2 L494.4,60.2 L495.9,60.3 L497.4,60.4 L498.9,60.4 L500.4,60.5 L501.9,60.5 L503.4,60.6 L504.9,60.6 L506.4,60.7 L507.9,60.8 L509.4,60.8 L510.9,60.9 L512.4,60.9 L513.9,61.0 L515.4,61.1 L516.9,61.1 L518.4,61.2 L519.9,61.2 L521.4,61.3 L522.9,61.3 L524.4,61.4 L525.9,61.4 L527.4,61.5 L528.9,61.6 L530.4,61.6 L531.9,61.7 L533.4,61.7 L534.9,61.8 L536.4,61.8 L537.9,61.9 L539.4,62.0 L540.9,62.0 L542.4,62.1 L544.0,62.1 L545.5,62.2 L547.0,62.3 L548.5,62.3 L550.0,62.4 L551.5,62.5 L553.0,62.5 L554.5,62.6 L556.0,62.7 L557.5,62.7 L559.0,62.8 L560.5,62.9 L562.0,62.9 L563.5,63.0 L565.0,63.1 L566.5,63.2 L568.0,63.2 L569.5,63.3 L571.0,63.4 L572.4,63.5 L573.9,63.6 L575.4,63.6 L576.9,63.7 L578.5,63.8 L580.0,63.9 L581.5,64.0 L583.0,64.1 L584.5,64.2 L586.0,64.3 L587.5,64.4 L589.0,64.5 L590.5,64.6 L592.0,64.7 L593.5,64.8 L595.0,64.9 L596.5,65.0 L597.9,65.1 L599.4,65.2 L600.9,65.3 L602.4,65.5 L603.9,65.6 L605.4,65.7 L606.9,65.9 L608.4,66.0 L609.9,66.2 L611.4,66.4 L612.9,66.5 L614.4,66.7 L615.8,66.9 L617.3,67.2 L618.8,67.4 L620.3,67.7 L621.8,67.9 L623.3,68.2 L624.7,68.5 L626.2,68.8 L627.7,69.0 L629.2,69.3 L630.6,69.6 L632.1,70.0 L633.6,70.3 L635.0,70.7 L636.5,71.0 L637.9,71.4 L639.4,71.8 L640.8,72.2 L642.2,72.7 L643.7,73.2 L645.1,73.7 L646.5,74.2 L647.9,74.8 L649.3,75.3 L650.7,75.9 L652.1,76.5 L653.4,77.2 L654.8,77.8 L656.1,78.5 L657.4,79.3 L658.7,80.1 L659.9,80.9 L661.2,81.8 L662.4,82.7 L663.5,83.6 L664.6,84.6 L665.7,85.6 L666.7,86.7 L667.7,87.9 L668.7,89.0 L669.6,90.2 L670.6,91.4 L671.5,92.6 L672.4,93.8 L673.3,95.0 L674.2,96.2 L675.1,97.4 L675.9,98.6 L676.8,99.9 L677.6,101.2 L678.3,102.4 L679.1,103.7 L679.8,105.1 L680.5,106.4 L681.3,107.7 L682.0,109.0 L682.7,110.3 L683.5,111.6 L684.3,112.9 L685.1,114.2 L685.9,115.4 L686.7,116.7 L687.5,118.0 L688.3,119.3 L689.0,120.6 L689.7,121.9 L690.4,123.2 L691.0,124.6 L691.6,126.0 L692.2,127.3 L692.8,128.7 L693.3,130.1 L693.9,131.5 L694.5,132.9 L695.1,134.3 L695.6,135.7 L696.3,137.1 L696.8,138.5 L697.4,139.9 L697.9,141.3 L698.4,142.7 L698.8,144.1 L699.2,145.6 L699.5,147.0 L699.8,148.5 L700.1,150.0 L700.4,151.5 L700.7,152.9 L700.9,154.4 L701.2,155.9 L701.5,157.4 L701.8,158.8 L702.0,160.3 L702.3,161.8 L702.5,163.3 L702.8,164.8 L702.9,166.3 L703.1,167.8 L703.3,169.3 L703.4,170.7 L703.5,172.2 L703.7,173.7 L703.8,175.2 L703.9,176.7 L704.1,178.2 L704.2,179.7 L704.4,181.2 L704.5,182.7 L704.7,184.2 L704.8,185.7 L705.0,187.2 L705.1,188.7 L705.3,190.2 L705.4,191.7 L705.6,193.2 L705.8,194.7 L705.9,196.2 L706.1,197.6 L706.3,199.1 L706.5,200.6 L706.7,202.1 L706.9,203.6 L707.1,205.1 L707.2,206.6 L707.4,208.1 L707.6,209.6 L707.8,211.1 L708.0,212.5 L708.2,214.0 L708.3,215.5 L708.5,217.0 L708.7,218.5 L708.9,220.0 L709.0,221.5 L709.2,223.0 L709.4,224.5 L709.6,226.0 L709.7,227.5 L709.9,229.0 L710.1,230.4 L710.2,231.9 L710.4,233.4 L710.6,234.9 L710.7,236.4 L710.9,237.9 L711.1,239.4 L711.2,240.9 L711.4,242.4 L711.5,243.9 L711.7,245.4 L711.8,246.9 L712.0,248.4 L712.1,249.9 L712.3,251.4 L712.5,252.8 L712.7,254.3 L712.9,255.8 L713.1,257.3 L713.3,258.8 L713.6,260.3 L713.9,261.7 L714.1,263.2 L714.4,264.7 L714.7,266.2 L715.0,267.6 L715.3,269.1 L715.6,270.6 L715.9,272.1 L716.2,273.5 L716.5,275.0 L716.7,276.5 L717.0,278.0 L717.2,279.4 L717.5,280.9 L717.7,282.4 L718.0,283.9 L718.2,285.4 L718.4,286.9 L718.7,288.3 L718.9,289.8 L719.2,291.3 L719.4,292.8 L719.7,294.3 L719.9,295.7 L720.2,297.2 L720.4,298.7 L720.7,300.2 L721.0,301.7 L721.3,303.1 L721.6,304.6 L721.9,306.1 L722.2,307.6 L722.5,309.0 L722.7,310.5 L723.0,312.0 L723.2,313.5 L723.3,315.0 L723.5,316.5 L723.6,318.0 L723.7,319.4 L723.9,320.9 L724.0,322.4 L724.1,323.9 L724.2,325.4 L724.4,326.9 L724.6,328.4 L724.8,329.9 L725.0,331.4 L725.2,332.9 L725.4,334.4 L725.6,335.9 L725.8,337.3 L726.0,338.8 L726.3,340.3 L726.5,341.8 L726.7,343.3 L727.0,344.8 L727.2,346.3 L727.4,347.7 L727.7,349.2 L727.9,350.7 L728.2,352.2 L728.5,353.7 L728.8,355.1 L729.0,356.6 L729.3,358.1 L729.6,359.6 L729.9,361.1 L730.2,362.5 L730.5,364.0 L730.7,365.5 L731.0,367.0 L731.3,368.4 L731.5,369.9 L731.8,371.4 L732.0,372.9 L732.3,374.4 L732.5,375.8 L732.7,377.3 L732.9,378.8 L733.1,380.3 L733.3,381.8 L733.5,383.3 L733.6,384.8 L733.8,386.2 L733.9,387.7 L734.1,389.2 L734.2,390.7 L734.3,392.2 L734.5,393.7 L734.6,395.2 L734.7,396.7 L734.8,398.2 L735.0,399.7 L735.1,401.2 L735.2,402.7 L735.3,404.2 L735.4,405.7 L735.5,407.2 L735.6,408.7 L735.7,410.2 L735.8,411.7 L735.9,413.2 L736.0,414.7 L736.1,416.2 L736.2,417.7 L736.3,419.2 L736.4,420.7 L736.5,422.2 L736.6,423.7 L736.6,425.2 L736.7,426.7 L736.8,428.2 L736.9,429.7 L737.0,431.2 L737.1,432.7 L737.2,434.2 L737.3,435.7 L737.4,437.2 L737.5,438.7 L737.6,440.2 L737.7,441.7 L737.8,443.2 L737.9,444.7 L738.0,446.2 L738.1,447.7 L738.2,449.2 L738.3,450.7 L738.4,452.2 L738.5,453.7 L738.6,455.2 L738.7,456.7 L738.9,458.2 L739.0,459.7 L739.1,461.2 L739.3,462.7 L739.4,464.1 L739.5,465.6 L739.7,467.1 L739.8,468.6 L740.0,470.1 L740.1,471.6 L740.3,473.1 L740.4,474.6 L740.6,476.1 L740.7,477.6 L740.9,479.1 L741.0,480.6 L741.2,482.1 L741.3,483.6 L741.5,485.1 L741.6,486.6 L741.8,488.1 L742.0,489.5 L742.1,491.0 L742.3,492.5 L742.4,494.0 L742.6,495.5 L742.7,497.0 L742.9,498.5 L743.0,500.0 L743.2,501.5 L743.3,503.0 L743.5,504.5 L743.6,506.0 L743.8,507.5 L743.9,509.0 L744.1,510.5 L744.2,512.0 L744.3,513.5 L744.5,515.0 L744.6,516.5 L744.7,517.9 L744.9,519.4 L745.0,520.9 L745.1,522.4 L745.3,523.9 L745.4,525.4 L745.5,526.9 L745.7,528.4 L745.8,529.9 L745.9,531.4 L746.0,532.9 L746.2,534.4 L746.3,535.9 L746.4,537.4 L746.5,538.9 L746.7,540.4 L746.8,541.9 L746.9,543.4 L747.0,544.9 L747.2,546.4 L747.3,547.9 L747.4,549.4 L747.5,550.9 L747.6,552.4 L747.8,553.9 L747.9,555.4 L748.0,556.9 L748.1,558.4 L748.2,559.9 L748.3,561.4 L748.4,562.8 L748.6,564.3 L748.7,565.8 L748.8,567.3 L748.9,568.8 L749.0,570.3 L749.1,571.8 L749.3,573.3 L749.4,574.8 L749.5,576.3 L749.6,577.8 L749.7,579.3 L749.8,580.8 L749.9,582.3 L750.0,583.8 L750.1,585.3 L750.2,586.8 L750.3,588.3 L750.4,589.8 L750.5,591.3 L750.5,592.8 L750.6,594.3 L750.7,595.8 L750.8,597.3 L750.9,598.8 L751.0,600.3 L751.2,601.8 L751.5,603.3 L751.7,604.8 L752.0,606.2 L752.2,607.7 L752.3,609.2 L752.4,610.7 L752.4,612.2 L752.5,613.7 L752.6,615.2 L752.8,616.7 L753.2,618.2 L753.6,619.6 L754.1,621.0 L754.7,622.4 L755.3,623.8 L756.1,625.3 L757.0,626.3 L757.8,625.1 L758.5,623.8 L759.1,622.3 L759.5,620.9 L759.8,619.5 L760.1,618.0 L760.3,616.5 L760.4,615.0 L760.4,613.5 L760.4,611.9 L760.5,610.4 L760.5,609.0 L761.1,607.6 L761.4,606.2 L761.5,604.7 L761.5,603.2 L761.5,601.7 L761.6,600.2 L761.6,598.7 L761.8,597.2 L762.0,595.7 L762.2,594.2 L762.4,592.7 L762.5,591.2 L762.6,589.7 L762.7,588.2 L762.7,586.7 L762.8,585.2 L762.8,583.7 L762.9,582.2 L762.9,580.7 L762.9,579.2 L763.0,577.7 L763.0,576.2 L763.0,574.7 L763.0,573.2 L763.1,571.7 L763.1,570.2 L763.1,568.7 L763.2,567.2 L763.2,565.7 L763.2,564.2 L763.3,562.7 L763.3,561.2 L763.4,559.7 L763.4,558.2 L763.5,556.7 L763.6,555.2 L763.6,553.7 L763.7,552.2 L763.8,550.7 L763.9,549.2 L764.0,547.7 L764.0,546.2 L764.1,544.7 L764.2,543.2 L764.3,541.7 L764.4,540.2 L764.5,538.7 L764.6,537.2 L764.6,535.7 L764.7,534.2 L764.8,532.7 L764.9,531.2 L765.0,529.7 L765.1,528.2 L765.1,526.7 L765.2,525.2 L765.3,523.7 L765.4,522.2 L765.4,520.7 L765.5,519.2 L765.6,517.7 L765.6,516.2 L765.7,514.7 L765.8,513.2 L765.9,511.7 L765.9,510.2 L766.0,508.7 L766.1,507.2 L766.1,505.7 L766.2,504.2 L766.3,502.7 L766.3,501.2 L766.4,499.7 L766.5,498.2 L766.5,496.7 L766.6,495.2 L766.6,493.7 L766.7,492.2 L766.8,490.7 L766.8,489.2 L766.9,487.7 L766.9,486.2 L767.0,484.7 L767.0,483.2 L767.1,481.7 L767.1,480.2 L767.1,478.7 L767.2,477.2 L767.2,475.7 L767.2,474.2 L767.3,472.7 L767.3,471.2 L767.3,469.7 L767.3,468.2 L767.3,466.7 L767.4,465.2 L767.4,463.7 L767.4,462.2 L767.4,460.7 L767.4,459.1 L767.4,457.6 L767.5,456.1 L767.5,454.6 L767.5,453.1 L767.5,451.6 L767.5,450.1 L767.6,448.6 L767.6,447.1 L767.6,445.6 L767.7,444.1 L767.7,442.6 L767.8,441.1 L767.9,439.6 L767.9,438.1 L768.0,436.6 L768.1,435.1 L768.1,433.6 L768.2,432.1 L768.3,430.6 L768.4,429.1 L768.4,427.6 L768.5,426.1 L768.5,424.6 L768.6,423.1 L768.6,421.6 L768.7,420.1 L768.7,418.6 L768.8,417.1 L768.9,415.6 L768.9,414.1 L769.0,412.6 L769.0,411.1 L769.1,409.6 L769.1,408.1 L769.1,406.6 L769.2,405.1 L769.2,403.6 L769.2,402.1 L769.3,400.6 L769.3,399.1 L769.3,397.6 L769.3,396.1 L769.4,394.6 L769.4,393.1 L769.4,391.6 L769.4,390.1 L769.4,388.6 L769.5,387.1 L769.5,385.6 L769.5,384.1 L769.5,382.6 L769.6,381.1 L769.6,379.6 L769.7,378.1 L769.7,376.6 L769.8,375.1 L769.9,373.6 L770.0,372.1 L770.1,370.6 L770.2,369.1 L770.3,367.6 L770.4,366.1 L770.5,364.6 L770.5,363.1 L770.6,361.6 L770.6,360.1 L770.7,358.6 L770.7,357.1 L770.8,355.6 L770.8,354.1 L770.8,352.6 L770.9,351.1 L770.9,349.6 L770.9,348.1 L771.0,346.6 L771.0,345.1 L771.0,343.6 L771.1,342.1 L771.1,340.6 L771.1,339.1 L771.1,337.6 L771.2,336.1 L771.2,334.6 L771.2,333.1 L771.3,331.6 L771.3,330.1 L771.3,328.6 L771.4,327.1 L771.4,325.6 L771.4,324.1 L771.4,322.6 L771.5,321.1 L771.5,319.6 L771.5,318.1 L771.6,316.6 L771.6,315.1 L771.6,313.6 L771.7,312.0 L771.7,310.5 L771.7,309.0 L771.8,307.5 L771.8,306.0 L771.9,304.5 L771.9,303.0 L772.0,301.5 L772.1,300.0 L772.1,298.5 L772.2,297.0 L772.3,295.5 L772.4,294.0 L772.5,292.5 L772.6,291.0 L772.6,289.5 L772.7,288.0 L772.8,286.5 L772.9,285.0 L773.0,283.5 L773.0,282.0 L773.1,280.5 L773.1,279.0 L773.2,277.5 L773.2,276.0 L773.3,274.5 L773.3,273.0 L773.4,271.5 L773.4,270.0 L773.5,268.5 L773.5,267.0 L773.6,265.5 L773.6,264.0 L773.7,262.5 L773.7,261.0 L773.8,259.5 L773.8,258.0 L773.9,256.5 L773.9,255.0 L774.0,253.5 L774.0,252.0 L774.1,250.5 L774.1,249.0 L774.2,247.5 L774.2,246.0 L774.3,244.5 L774.3,243.0 L774.4,241.5 L774.4,240.0 L774.5,238.5 L774.5,237.0 L774.5,235.5 L774.6,234.0 L774.6,232.5 L774.7,231.0 L774.7,229.5 L774.8,228.0 L774.8,226.5 L774.9,225.0 L774.9,223.5 L775.0,222.0 L775.0,220.5 L775.1,219.0 L775.1,217.5 L775.2,216.0 L775.2,214.5 L775.3,213.0 L775.3,211.5 L775.4,210.0 L775.5,208.5 L775.5,207.0 L775.6,205.5 L775.7,204.0 L775.7,202.5 L775.8,201.0 L775.8,199.5 L775.9,198.0 L776.0,196.5 L776.0,195.0 L776.1,193.5 L776.2,192.0 L776.3,190.5 L776.3,189.0 L776.4,187.5 L776.5,186.0 L776.6,184.5 L776.6,183.0 L776.7,181.5 L776.8,180.0 L776.9,178.5 L776.9,177.0 L777.0,175.5 L777.1,174.0 L777.2,172.5 L777.3,171.0 L777.3,169.5 L777.4,168.0 L777.5,166.5 L777.6,165.0 L777.7,163.5 L777.8,162.0 L777.9,160.5 L778.0,159.0 L778.1,157.5 L778.2,156.0 L778.3,154.5 L778.4,153.0 L778.5,151.5 L778.6,150.0 L778.7,148.5 L778.9,147.0 L779.0,145.5 L779.1,144.0 L779.3,142.5 L779.4,141.1 L779.6,139.6 L779.8,138.1 L780.0,136.6 L780.1,135.1 L780.3,133.6 L780.5,132.1 L780.7,130.6 L780.9,129.1 L781.0,127.6 L781.2,126.1 L781.4,124.6 L781.6,123.2 L781.8,121.7 L782.0,120.2 L782.2,118.7 L782.4,117.2 L782.6,115.7 L782.8,114.2 L782.9,112.7 L783.0,111.2 L783.2,109.7 L783.3,108.2 L783.4,106.7 L783.5,105.2 L783.7,103.7 L783.8,102.2 L784.0,100.7 L784.2,99.3 L784.4,97.8 L784.6,96.3 L784.8,94.8 L785.1,93.3 L785.4,91.7 L785.8,90.2 L786.2,88.8 L786.7,87.4 L787.2,86.1 L787.8,84.8 L788.6,83.6 L789.6,82.4 L790.7,81.3 L791.9,80.2 L793.0,79.3 L794.2,78.4 L795.5,77.6 L796.8,76.9 L798.2,76.2 L799.6,75.5 L801.0,75.0 L802.4,74.5 L803.8,74.0 L805.3,73.6 L806.7,73.2 L808.2,73.0 L809.7,72.9 L811.2,72.7 L812.7,72.6 L814.2,72.5 L815.7,72.4 L817.2,72.4 L818.7,72.4 L820.2,72.4 L821.7,72.4 L823.2,72.4 L824.7,72.4 L826.2,72.4 L827.7,72.4 L829.2,72.4 L830.7,72.4 L832.3,72.5 L833.8,72.5 L835.3,72.5 L836.8,72.5 L838.3,72.5 L839.8,72.5 L841.3,72.5 L842.8,72.6 L844.2,72.6 L845.7,72.7 L847.2,72.9 L848.7,73.2 L850.1,73.6 L851.6,74.0 L853.1,74.3 L854.6,74.5 L856.0,74.7 L857.5,74.8 L859.0,74.9 L860.5,75.0 L862.0,75.1 L863.5,75.2 L865.0,75.3 L866.5,75.4 L868.0,75.4 L869.6,75.4 L871.1,75.4 L872.6,75.3 L874.1,75.3 L875.6,75.2 L877.1,75.1 L878.5,74.9 L880.0,74.6 L881.4,74.1 L882.8,73.6 L884.2,73.0 L885.6,72.4 L887.0,71.8 L888.4,71.3 L889.9,70.9 L891.3,70.5 L892.8,70.1 L894.2,69.7 L895.7,69.3 L897.1,68.9 L898.6,68.6 L900.1,68.2 L901.5,67.9 L903.0,67.6 L904.5,67.3 L905.9,67.1 L907.4,66.8 L908.9,66.5 L910.4,66.2 L911.9,66.0 L913.3,65.8 L914.8,65.5 L916.3,65.3 L917.8,65.1 L919.3,64.9 L920.8,64.7 L922.3,64.6 L923.8,64.5 L925.3,64.3 L926.8,64.2 L928.3,64.1 L929.8,64.0 L931.3,63.9 L932.8,63.8 L934.3,63.7 L935.8,63.7 L937.3,63.6 L938.8,63.5 L940.3,63.5 L941.8,63.4 L943.3,63.4 L944.8,63.3 L946.3,63.3 L947.8,63.2 L949.3,63.2 L950.8,63.2 L952.3,63.1 L953.8,63.1 L955.3,63.1 L956.8,63.0 L958.3,63.0 L959.8,63.0 L961.3,63.0 L962.8,62.9 L964.3,62.9 L965.8,62.9 L967.3,62.9 L968.8,62.8 L970.3,62.8 L971.8,62.8 L973.3,62.8 L974.8,62.7 L976.3,62.7 L977.8,62.7 L979.3,62.6 L980.8,62.6 L982.3,62.6 L983.8,62.5 L985.3,62.5 L986.8,62.4 L988.3,62.4 L989.8,62.4 L991.3,62.3 L992.8,62.3 L994.3,62.2 L995.8,62.2 L997.3,62.1 L998.8,62.1 L1000.3,62.0 L1001.8,62.0 L1003.3,62.0 L1004.8,61.9 L1006.3,61.9 L1007.8,61.8 L1009.3,61.8 L1010.8,61.7 L1012.3,61.7 L1013.8,61.6 L1015.3,61.6 L1016.8,61.6 L1018.3,61.5 L1019.8,61.5 L1021.3,61.4 L1022.8,61.4 L1024.3,61.4 L1025.8,61.3 L1027.3,61.3 L1028.8,61.2 L1030.3,61.2 L1031.9,61.1 L1033.4,61.1 L1034.9,61.0 L1036.4,61.0 L1037.9,61.0 L1039.4,60.9 L1040.9,60.9 L1042.4,60.8 L1043.9,60.8 L1045.4,60.7 L1046.9,60.7 L1048.4,60.7 L1049.9,60.6 L1051.4,60.6 L1052.9,60.5 L1054.4,60.5 L1055.9,60.5 L1057.4,60.5 L1058.9,60.4 L1060.4,60.4 L1061.9,60.4 L1063.4,60.4 L1064.9,60.3 L1066.4,60.3 L1067.9,60.3 L1069.4,60.3 L1070.9,60.3 L1072.4,60.3 L1073.9,60.3 L1075.5,60.3 L1077.0,60.3 L1078.5,60.3 L1080.1,60.3 L1081.6,60.3 L1083.2,60.3 L1084.8,60.3 L1086.3,60.3 L1087.9,60.3 L1089.4,60.3 L1091.0,60.3 L1092.5,60.3 L1094.1,60.3 L1095.6,60.3 L1097.2,60.3 L1098.7,60.3 L1100.2,60.3 L1101.7,60.3 L1103.2,60.3 L1104.7,60.3 L1106.2,60.2 L1107.7,60.2 L1109.1,60.2 L1110.6,60.2 L1112.0,60.2 L1113.4,60.2 L1114.8,60.2 L1116.1,60.2 L1117.4,60.2 L1118.7,59.4 L1153.2,59.4 L1154.5,58.5 L1162.2,57.9 L1164.1,59.4 L1172.4,59.4 L1173.0,60.8 L1173.5,62.2 L1173.8,63.7 L1174.0,65.2 L1174.2,66.7 L1174.3,68.2 L1174.5,69.7 L1174.6,71.2 L1174.6,72.7 L1174.7,74.2 L1174.8,75.7 L1174.9,77.2 L1174.9,78.7 L1175.0,80.2 L1175.0,81.7 L1175.1,83.2 L1175.2,84.7 L1175.2,86.3 L1175.2,87.8 L1175.3,89.3 L1175.3,90.8 L1175.4,92.3 L1175.4,93.8 L1175.5,95.3 L1175.5,96.8 L1175.5,98.3 L1175.6,99.8 L1175.6,101.3 L1175.7,102.8 L1175.7,104.4 L1175.8,105.9 L1175.8,107.4 L1175.9,108.9 L1175.9,110.4 L1175.9,111.9 L1176.0,113.4 L1176.0,114.9 L1176.1,116.4 L1176.1,117.9 L1176.1,119.4 L1176.2,120.9 L1176.2,122.4 L1176.2,124.0 L1176.3,125.5 L1176.3,127.0 L1176.4,128.5 L1176.4,130.0 L1176.4,131.5 L1176.5,133.0 L1176.5,134.5 L1176.6,136.0 L1176.6,137.5 L1176.7,139.0 L1176.7,140.5 L1176.8,142.0 L1176.8,143.5 L1176.9,145.1 L1176.9,146.6 L1177.0,148.1 L1177.1,149.6 L1177.1,151.1 L1177.2,152.6 L1177.2,154.1 L1177.3,155.6 L1177.4,157.1 L1177.4,158.6 L1177.5,160.1 L1177.6,161.6 L1177.7,163.1 L1177.7,164.7 L1177.8,166.2 L1177.9,167.7 L1178.0,169.2 L1178.1,170.7 L1178.1,172.2 L1178.2,173.7 L1178.3,175.2 L1178.4,176.7 L1178.5,178.2 L1178.6,179.7 L1178.7,181.2 L1178.8,182.7 L1178.9,184.2 L1179.0,185.7 L1179.1,187.2 L1179.2,188.7 L1179.4,190.2 L1179.5,191.7 L1179.6,193.2 L1179.8,194.7 L1179.9,196.2 L1180.1,197.7 L1180.3,199.2 L1180.4,200.7 L1180.6,202.2 L1180.8,203.7 L1180.9,205.2 L1181.1,206.7 L1181.3,208.2 L1181.5,209.7 L1181.7,211.2 L1181.9,212.7 L1182.1,214.2 L1182.3,215.7 L1182.5,217.2 L1182.7,218.7 L1182.9,220.2 L1183.2,221.7 L1183.4,223.2 L1183.6,224.7 L1183.8,226.2 L1184.0,227.6 L1184.2,229.1 L1184.5,230.6 L1184.7,232.1 L1185.0,233.6 L1185.3,235.1 L1185.5,236.6 L1185.8,238.0 L1186.1,239.5 L1186.4,241.0 L1186.7,242.5 L1187.0,244.0 L1187.3,245.4 L1187.6,246.9 L1187.9,248.4 L1188.2,249.9 L1188.5,251.4 L1188.8,252.8 L1189.1,254.3 L1189.4,255.8 L1189.7,257.3 L1189.9,258.8 L1190.2,260.3 L1190.4,261.7 L1190.6,263.2 L1190.9,264.7 L1191.1,266.2 L1191.3,267.7 L1191.5,269.2 L1191.7,270.7 L1192.0,272.2 L1192.2,273.7 L1192.4,275.2 L1192.6,276.7 L1192.8,278.2 L1193.0,279.7 L1193.2,281.2 L1193.4,282.7 L1193.6,284.2 L1193.8,285.7 L1193.9,287.2 L1194.1,288.7 L1194.2,290.2 L1194.4,291.7 L1194.5,293.2 L1194.7,294.7 L1194.8,296.2 L1194.9,297.7 L1195.0,299.2 L1195.1,300.7 L1195.2,302.2 L1195.3,303.7 L1195.3,305.2 L1195.4,306.7 L1195.5,308.2 L1195.6,309.7 L1195.6,311.2 L1195.7,312.7 L1195.8,314.2 L1195.8,315.7 L1195.9,317.2 L1196.0,318.7 L1196.0,320.2 L1196.1,321.7 L1196.2,323.3 L1196.2,324.8 L1196.3,326.3 L1196.3,327.8 L1196.4,329.3 L1196.5,330.8 L1196.5,332.3 L1196.6,333.8 L1196.7,335.3 L1196.8,336.8 L1196.8,338.3 L1196.9,339.8 L1197.0,341.3 L1197.1,342.8 L1197.2,344.4 L1197.3,345.9 L1197.4,347.4 L1197.5,348.9 L1197.6,350.4 L1197.7,351.9 L1197.7,353.4 L1197.8,354.9 L1197.9,356.4 L1198.0,357.9 L1198.1,359.4 L1198.2,360.9 L1198.3,362.4 L1198.4,363.9 L1198.5,365.4 L1198.6,366.9 L1198.8,368.4 L1198.9,369.9 L1199.0,371.4 L1199.1,372.9 L1199.2,374.5 L1199.3,376.0 L1199.4,377.5 L1199.5,379.0 L1199.6,380.5 L1199.7,382.0 L1199.8,383.5 L1199.9,385.0 L1200.0,386.5 L1200.2,388.0 L1200.3,389.5 L1200.4,391.0 L1200.5,392.5 L1200.7,391.0 L1201.0,389.5 L1201.3,388.0 L1201.5,386.5 L1201.8,385.1 L1202.1,383.6 L1202.4,382.1 L1202.7,380.6 L1203.0,379.1 L1203.3,377.7 L1203.7,376.2 L1204.0,374.7 L1204.4,373.2 L1204.8,371.8 L1205.2,370.3 L1205.6,368.9 L1205.9,367.4 L1206.3,365.9 L1206.7,364.5 L1207.1,363.0 L1207.4,361.5 L1207.7,360.1 L1208.1,358.6 L1208.4,357.1 L1208.7,355.6 L1209.0,354.1 L1209.3,352.7 L1209.6,351.2 L1209.9,349.7 L1210.1,348.2 L1210.4,346.7 L1210.7,345.2 L1211.0,343.8 L1211.3,342.3 L1211.5,340.8 L1211.8,339.3 L1212.0,337.8 L1212.3,336.3 L1212.5,334.8 L1212.8,333.3 L1213.0,331.8 L1213.3,330.3 L1213.5,328.9 L1213.8,327.4 L1214.0,325.9 L1214.2,324.4 L1214.5,322.9 L1214.7,321.4 L1214.9,319.9 L1215.2,318.4 L1215.4,316.9 L1215.6,315.4 L1215.8,313.9 L1216.1,312.4 L1216.3,310.9 L1216.5,309.4 L1216.7,307.9 L1216.9,306.4 L1217.1,304.9 L1217.3,303.4 L1217.5,301.9 L1217.7,300.4 L1217.9,298.9 L1218.1,297.4 L1218.2,295.9 L1218.4,294.4 L1218.6,292.9 L1218.8,291.4 L1218.9,289.9 L1219.1,288.4 L1219.2,286.9 L1219.3,285.4 L1219.5,283.9 L1219.6,282.4 L1219.8,280.9 L1219.9,279.4 L1220.0,277.9 L1220.2,276.4 L1220.3,274.9 L1220.4,273.4 L1220.6,271.9 L1220.7,270.4 L1220.8,268.9 L1220.9,267.3 L1221.0,265.8 L1221.2,264.3 L1221.3,262.8 L1221.4,261.3 L1221.5,259.8 L1221.6,258.3 L1221.7,256.8 L1221.8,255.3 L1221.9,253.8 L1222.0,252.3 L1222.1,250.8 L1222.2,249.2 L1222.3,247.7 L1222.3,246.2 L1222.4,244.7 L1222.5,243.2 L1222.6,241.7 L1222.6,240.2 L1222.7,238.7 L1222.8,237.2 L1222.8,235.7 L1222.9,234.1 L1223.0,232.6 L1223.0,231.1 L1223.1,229.6 L1223.1,228.1 L1223.2,226.6 L1223.2,225.1 L1223.3,223.6 L1223.3,222.1 L1223.4,220.6 L1223.4,219.0 L1223.5,217.5 L1223.5,216.0 L1223.6,214.5 L1223.6,213.0 L1223.7,211.5 L1223.7,210.0 L1223.8,208.5 L1223.8,207.0 L1223.8,205.4 L1223.9,203.9 L1223.9,202.4 L1224.0,200.9 L1224.0,199.4 L1224.0,197.9 L1224.1,196.4 L1224.1,194.9 L1224.1,193.4 L1224.2,191.8 L1224.2,190.3 L1224.2,188.8 L1224.3,187.3 L1224.3,185.8 L1224.4,184.3 L1224.4,182.8 L1224.4,181.3 L1224.4,179.8 L1224.5,178.2 L1224.5,176.7 L1224.5,175.2 L1224.6,173.7 L1224.6,172.2 L1224.6,170.7 L1224.6,169.2 L1224.7,167.7 L1224.7,166.2 L1224.7,164.6 L1224.7,163.1 L1224.7,161.6 L1224.7,160.1 L1224.8,158.6 L1224.8,157.1 L1224.8,155.6 L1224.8,154.1 L1224.8,152.6 L1224.8,151.0 L1224.8,149.5 L1224.9,148.0 L1224.9,146.5 L1224.9,145.0 L1224.9,143.5 L1224.9,142.0 L1224.9,140.5 L1224.9,139.0 L1224.9,137.4 L1224.9,135.9 L1225.0,134.4 L1225.0,132.9 L1225.0,131.4 L1225.0,129.9 L1225.0,128.4 L1225.0,126.9 L1225.0,125.3 L1225.1,123.8 L1225.1,122.3 L1225.1,120.8 L1225.1,119.3 L1225.1,117.8 L1225.1,116.3 L1225.1,114.8 L1225.2,113.3 L1225.2,111.7 L1225.2,110.2 L1225.2,108.7 L1225.2,107.2 L1225.2,105.7 L1225.3,104.2 L1225.3,102.7 L1225.3,101.2 L1225.3,99.7 L1225.4,98.1 L1225.4,96.6 L1225.5,95.1 L1225.7,93.6 L1225.8,92.1 L1226.0,90.6 L1226.2,89.1 L1226.4,87.6 L1226.6,86.1 L1226.7,84.6 L1226.8,83.1 L1226.9,81.6 L1227.0,80.1 L1227.1,78.6 L1227.2,77.1 L1227.3,75.5 L1227.4,74.0 L1227.5,72.5 L1227.6,71.0 L1227.8,69.5 L1227.9,68.0 L1228.1,66.4 L1228.3,64.7 L1228.5,63.1 L1228.9,61.8 L1229.4,60.8 L1230.7,60.1 L1232.4,59.6 L1233.9,59.6 L1235.4,59.6 L1236.9,59.7 L1238.5,59.7 L1240.0,59.7 L1241.5,59.7 L1243.0,59.7 L1244.5,59.8 L1246.0,59.8 L1247.6,59.8 L1249.1,59.8 L1250.6,59.8 L1252.1,59.9 L1253.6,59.9 L1255.1,59.9 L1256.7,59.9 L1258.2,59.9 L1259.7,60.0 L1261.2,60.0 L1262.7,60.0 L1264.2,60.0 L1265.8,60.0 L1267.3,60.1 L1268.8,60.1 L1270.3,60.1 L1271.8,60.1 L1273.3,60.1 L1274.9,60.1 L1276.4,60.1 L1277.9,60.2 L1279.4,60.2 L1280.9,60.2 L1282.4,60.2 L1284.0,60.2 L1285.5,60.2 L1287.0,60.2 L1288.5,60.2 L1290.0,60.3 L1291.5,60.3 L1293.0,60.3 L1294.6,60.3 L1296.1,60.3 L1297.6,60.3 L1299.1,60.3 L1300.6,60.3 L1302.1,60.3 L1303.7,60.3 L1305.2,60.3 L1306.7,60.3 L1308.2,60.3 L1309.7,60.3 L1311.2,60.3 L1312.8,60.3 L1314.3,60.3 L1315.8,60.3 L1317.3,60.3 L1318.8,60.4 L1320.3,60.4 L1321.9,60.4 L1323.4,60.4 L1324.9,60.4 L1326.4,60.4 L1327.9,60.4 L1329.4,60.4 L1331.0,60.4 L1332.5,60.4 L1334.0,60.4 L1335.5,60.4 L1337.0,60.4 L1338.5,60.4 L1340.1,60.4 L1341.6,60.4 L1343.1,60.4 L1344.6,60.4 L1346.1,60.4 L1347.6,60.4 L1349.2,60.4 L1350.7,60.4 L1352.2,60.4 L1353.7,60.4 L1355.2,60.4 L1356.7,60.4 L1358.2,60.4 L1359.8,60.4 L1361.3,60.4 L1362.8,60.4 L1364.3,60.4 L1365.8,60.4 L1367.3,60.5 L1368.9,60.5 L1370.4,60.5 L1371.9,60.5 L1373.4,60.5 L1374.9,60.5 L1376.4,60.5 L1378.0,60.5 L1379.5,60.5 L1381.0,60.5 L1382.5,60.5 L1384.0,60.5 L1385.5,60.5 L1387.1,60.5 L1388.6,60.5 L1390.1,60.5 L1391.6,60.5 L1393.1,60.5 L1394.6,60.5 L1396.2,60.5 L1397.7,60.5 L1399.2,60.5 L1400.7,60.5 L1402.2,60.5 L1403.7,60.5 L1405.3,60.5 L1406.8,60.5 L1408.3,60.5 L1409.8,60.5 L1411.3,60.5 L1412.8,60.5 L1414.4,60.5 L1415.9,60.5 L1417.4,60.5 L1418.9,60.5 L1420.4,60.5 L1421.9,60.5 L1423.5,60.5 L1425.0,60.5 L1426.5,60.5 L1428.0,60.5" fill="none" stroke="#00f" stroke-width="1" stroke-dasharray="9 3 3 3 3 3" stroke-linejoin="round" shape-rendering="crispEdges"/>
<text transform="translate(125,102.2) scale(1.0,1.07)" font-size="20.15" fill="#000">28.7 C</text>
<text transform="translate(154,273.5) scale(1.0,1.07)" font-size="20.15" fill="#000">Wt. Loss: 19.389 mg, Percent: 64.247%</text>
<text transform="translate(728.5,652.7) scale(1.0,1.07)" font-size="20.15" fill="#000">501.71 C</text>
<text transform="translate(796,514.5) scale(1.0,1.07)" font-size="20.15" fill="#000">Wt. Loss: 6.235 mg, Percent: 20.662%</text>
<text transform="translate(1103,448.5) scale(1.0,1.07)" font-size="20.15" fill="#000">799.9 C</text>
<text transform="translate(1220,398) scale(0.99,1.07)" font-size="20.15" fill="#000">830.24 C</text>
<text transform="translate(1019,631) scale(0.99,1.07)" font-size="20.15" fill="#000">Residue : 4.56 mg, 15.09%</text>
<text transform="translate(1346.5,628) scale(1.0,1.07)" font-size="20.15" fill="#000">999.6 C</text>
</svg></body></html>
